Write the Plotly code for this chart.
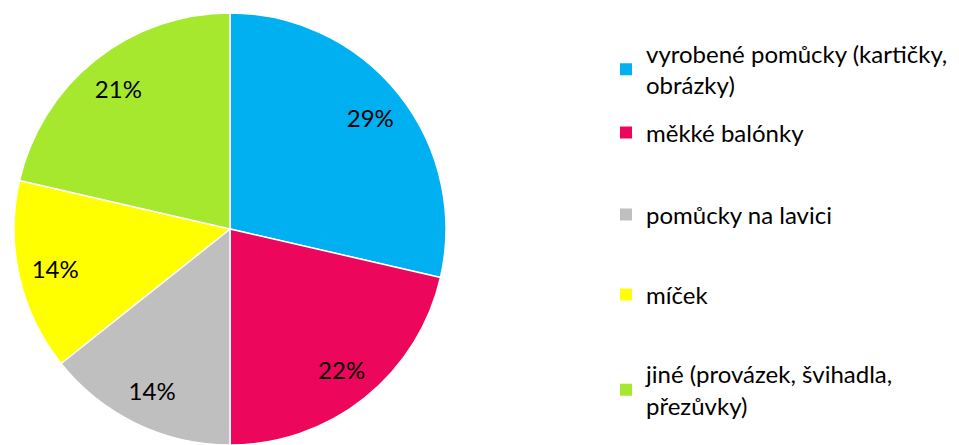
import plotly.graph_objects as go

# ── data ──────────────────────────────────────────────────────────────────────
categories = [
    "vyrobené pomůcky (kartičky,<br>obrázky)",
    "měkké balónky",
    "pomůcky na lavici",
    "míček",
    "jiné (provázek, švihadla,<br>přezůvky)",
]
shares = [28.6, 21.4, 14.3, 14.3, 21.4]          # slice sizes
shown_pct = ["29%", "22%", "14%", "14%", "21%"]  # labels printed on the slices
colors = ["#00B0F0", "#EC065C", "#BFBFBF", "#FFFF00", "#A5E82E"]

FONT = "Lato, Carlito, Calibri, sans-serif"
W, H = 959, 445
OFF = 8  # page body margin around the figure

# page-space centres of each legend entry (Excel spreads them out unevenly)
legend_y_page = [69.5, 133, 215, 295, 390]

pie_dom = dict(x=[(230 - OFF - 216) / W, (230 - OFF + 216) / W],
               y=[1 - (229 - OFF + 216) / H, 1 - (229 - OFF - 216) / H])

fig = go.Figure()
# coloured pie
fig.add_trace(go.Pie(
    labels=categories, values=shares, textinfo="none",
    marker=dict(colors=colors, line=dict(color="white", width=1.5)),
    sort=False, direction="clockwise", rotation=0,
    domain=pie_dom, showlegend=False, hoverinfo="label+percent",
))
# transparent ring on top, only to push the labels out towards the rim
fig.add_trace(go.Pie(
    labels=categories, values=shares, text=shown_pct, hole=0.66,
    textinfo="text", textposition="inside", insidetextorientation="horizontal",
    insidetextfont=dict(family=FONT, size=24, color="black"),
    marker=dict(colors=["rgba(0,0,0,0)"] * len(shares), line=dict(width=0)),
    sort=False, direction="clockwise", rotation=0,
    domain=pie_dom, showlegend=False, hoverinfo="skip",
))

legend_layout = {}
for i, (name, col, yp) in enumerate(zip(categories, colors, legend_y_page)):
    key = "legend" if i == 0 else f"legend{i + 1}"
    fig.add_trace(go.Scatter(
        x=[None], y=[None], mode="markers", name=name,
        marker=dict(symbol="square", size=12, color=col),
        legend=key,
    ))
    legend_layout[key] = dict(
        x=(606 - OFF) / W, y=1 - (yp - OFF) / H,
        xanchor="left", yanchor="middle", itemclick=False,
        bgcolor="rgba(0,0,0,0)",
        font=dict(family=FONT, size=24, color="black"),
    )

fig.update_layout(
    width=W, height=H,
    paper_bgcolor="white", plot_bgcolor="white",
    margin=dict(l=0, r=0, t=0, b=0),
    xaxis=dict(visible=False), yaxis=dict(visible=False),
    font=dict(family=FONT, size=24, color="black"),
    **legend_layout,
)

fig.write_html("out.html")
